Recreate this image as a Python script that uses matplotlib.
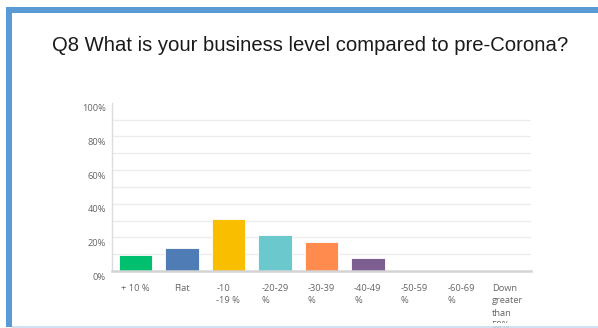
import matplotlib
matplotlib.use("Agg")
import matplotlib.pyplot as plt
from matplotlib.transforms import ScaledTranslation
from matplotlib.patches import Rectangle
from matplotlib.lines import Line2D

title = "Q8 What is your business level compared to pre-Corona?"
categories = ["+ 10 %", "Flat", "-10\n-19 %", "-20-29\n%", "-30-39\n%", "-40-49\n%",
              "-50-59\n%", "-60-69\n%", "Down\ngreater\nthan\n50%"]
values = [9.62, 13.46, 30.77, 21.15, 17.31, 7.69, 0, 0, 0]
colors = ["#00BF6F", "#507CB6", "#F9BE00", "#6BC8CD", "#FF8B4F", "#7D5E90",
          "#C94C6E", "#D25F90", "#A6B2BF"]
yticks = [0, 20, 40, 60, 80, 100]
ytick_labels = ["0%", "20%", "40%", "60%", "80%", "100%"]

W, H = 598, 328
fig = plt.figure(figsize=(W / 100, H / 100), dpi=100)
fig.patch.set_facecolor("white")

ax = fig.add_axes([112 / W, 1 - 271 / H, (530.7 - 112) / W, (271 - 102.7) / H])
x = list(range(len(categories)))
ax.bar(x, values, width=0.72, color=colors, edgecolor="white", linewidth=0.6, zorder=3)
ax.set_xlim(-0.5, len(categories) - 0.5)
ax.set_ylim(0, 100)

for g in range(10, 100, 10):
    ax.axhline(g, color="#ececec", linewidth=1.0, zorder=1)

for s in ["top", "right"]:
    ax.spines[s].set_visible(False)
ax.spines["left"].set_color("#dcdcdc")
ax.spines["left"].set_linewidth(1.0)
ax.spines["bottom"].set_color("#d4d4d4")
ax.spines["bottom"].set_linewidth(1.8)
ax.spines["bottom"].set_zorder(4)

ax.set_xticks(x)
ax.set_xticklabels(categories, fontfamily="Open Sans", fontsize=6.7, color="#666666",
                   ha="center", va="top", multialignment="left", linespacing=1.5)
ax.tick_params(axis="x", length=0, pad=9.2)
ax.set_yticks(yticks)
ax.set_yticklabels(ytick_labels, fontfamily="Open Sans", fontsize=6.7, color="#666666")
ax.tick_params(axis="y", length=0, pad=4.3)
off = ScaledTranslation(0, -5 / 100, fig.dpi_scale_trans)
for lbl in ax.get_yticklabels():
    lbl.set_transform(lbl.get_transform() + off)

fig.text(310.3 / W, 1 - 51 / H, title, ha="center", va="baseline",
         fontfamily="Liberation Sans", fontsize=14.6, color="#1a1a1a")

# frame
blue = "#5B9BD5"
fig.patches.append(Rectangle((0, 1 - 326 / H), 1, 3 / H, transform=fig.transFigure,
                             facecolor="white", edgecolor="none", zorder=20))
fig.lines.append(Line2D([12 / W, 1], [1 - 326.8 / H] * 2, transform=fig.transFigure,
                        color="#c9dcec", linewidth=1.2, zorder=21))
fig.patches.append(Rectangle((6 / W, 1 - 326.5 / H), 6 / W, (326.5 - 7) / H,
                             transform=fig.transFigure, facecolor=blue,
                             edgecolor="none", zorder=22))
fig.patches.append(Rectangle((6 / W, 1 - 13 / H), 1 - 6 / W, 6 / H,
                             transform=fig.transFigure, facecolor=blue,
                             edgecolor="none", zorder=22))

fig.savefig("out.png", dpi=100, facecolor="white")
